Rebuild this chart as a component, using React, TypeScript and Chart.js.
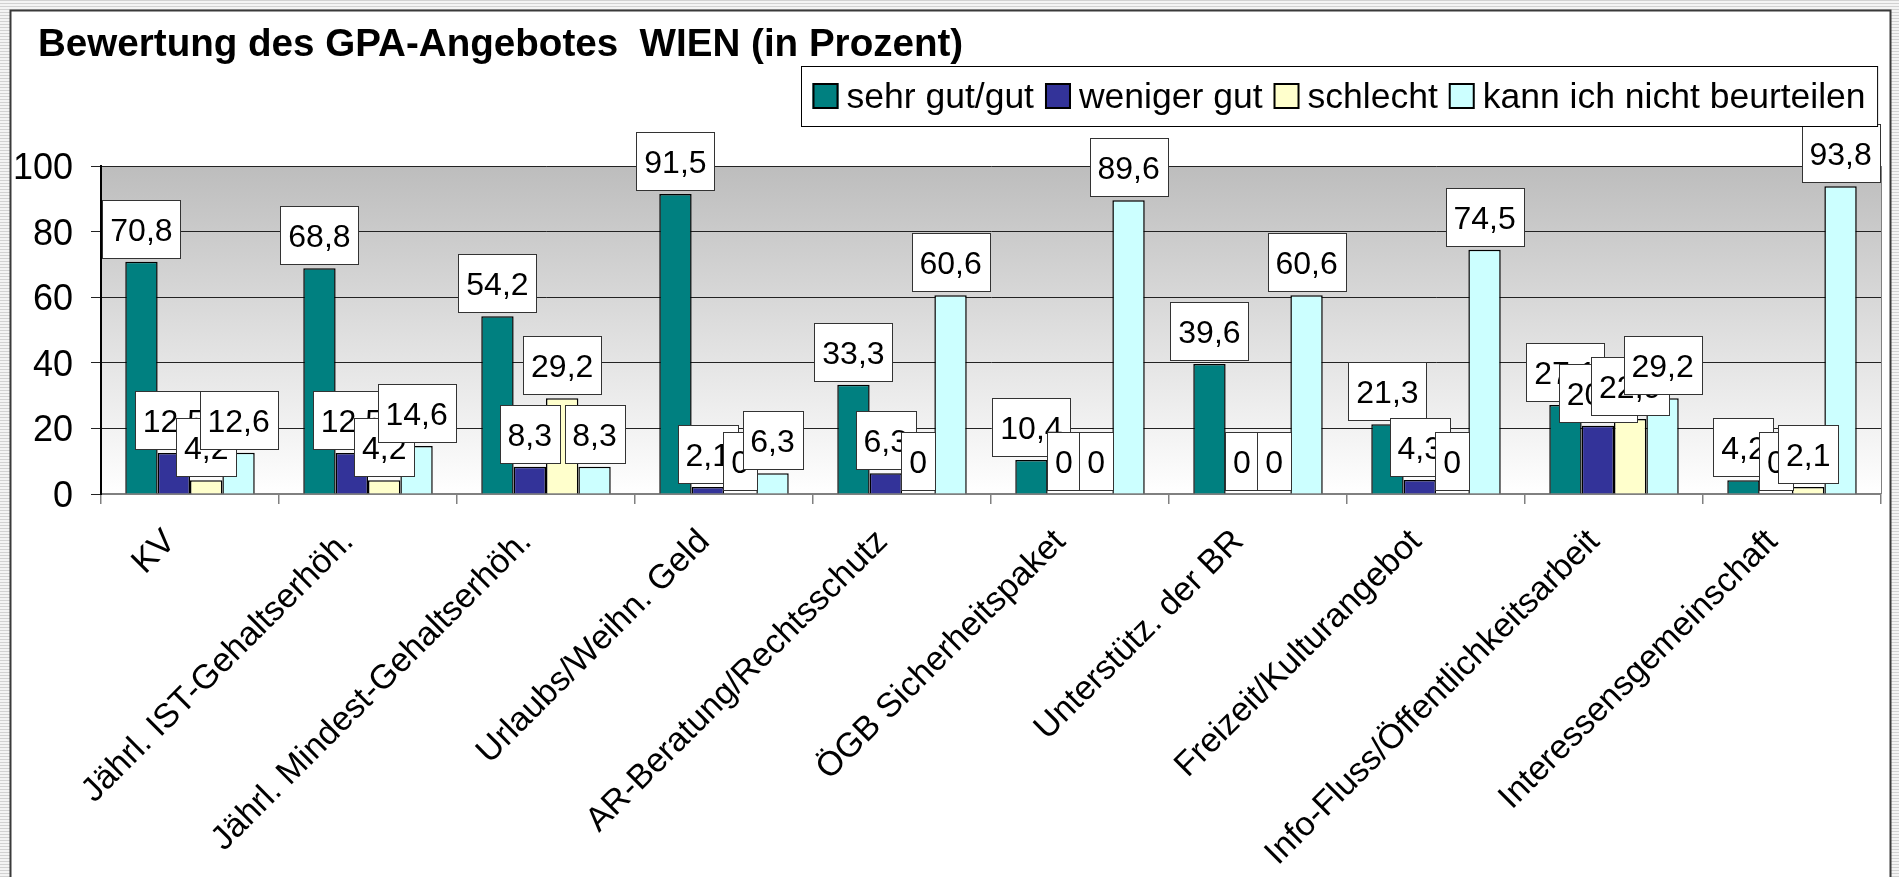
import React, { useEffect, useRef } from 'react';
import { Chart, registerables } from 'chart.js';

Chart.register(...registerables);

const TITLE = 'Bewertung des GPA-Angebotes  WIEN (in Prozent)';
const CATEGORIES = [
  'KV',
  'Jährl. IST-Gehaltserhöh.',
  'Jährl. Mindest-Gehaltserhöh.',
  'Urlaubs/Weihn. Geld',
  'AR-Beratung/Rechtsschutz',
  'ÖGB Sicherheitspaket',
  'Unterstütz. der BR',
  'Freizeit/Kulturangebot',
  'Info-Fluss/Öffentlichkeitsarbeit',
  'Interessensgemeinschaft',
];
const SERIES_NAMES = ['sehr gut/gut', 'weniger gut', 'schlecht', 'kann ich nicht beurteilen'];
const SERIES_COLORS = ['#008080', '#333399', '#FFFFCC', '#CCFFFF'];
const SEHR_GUT = [70.8, 68.8, 54.2, 91.5, 33.3, 10.4, 39.6, 21.3, 27.1, 4.2];
const WENIGER_GUT = [12.5, 12.5, 8.3, 2.1, 6.3, 0, 0, 4.3, 20.8, 0];
const SCHLECHT = [4.2, 4.2, 29.2, 0, 0, 0, 0, 0, 22.9, 2.1];
const NICHT_BEURTEILBAR = [12.6, 14.6, 8.3, 6.3, 60.6, 89.6, 60.6, 74.5, 29.2, 93.8];
const Y_MIN = 0;
const Y_MAX = 100;
const Y_STEP = 20;

const FONT = '"Liberation Sans", Arial, sans-serif';

const fmt = (v: number) => String(v).replace('.', ',');

function drawText(ctx: CanvasRenderingContext2D, text: string, x: number, y: number, align: CanvasTextAlign, rot = 0) {
  ctx.save();
  ctx.translate(x, y);
  if (rot) ctx.rotate(rot);
  ctx.textAlign = align;
  ctx.textBaseline = 'alphabetic';
  ctx.fillText(text, 0, 0);
  ctx.restore();
}

const decor = {
  id: 'decor',
  beforeDraw(chart: any) {
    const { ctx, chartArea: ca, width, height } = chart;
    ctx.save();
    ctx.fillStyle = '#f4f4f4';
    ctx.fillRect(0, 0, width, height);
    ctx.fillStyle = '#d2d2d2';
    for (let y = 0; y < height; y += 3) ctx.fillRect(0, y, width, 1);
    ctx.fillStyle = '#ffffff';
    ctx.fillRect(10, 10, 1880, height);
    ctx.strokeStyle = '#3a3a3a';
    ctx.lineWidth = 2;
    ctx.strokeRect(10.5, 10.5, 1880, height + 20);
    const g = ctx.createLinearGradient(0, ca.top, 0, ca.bottom);
    g.addColorStop(0, '#bdbdbd');
    g.addColorStop(1, '#ffffff');
    ctx.fillStyle = g;
    ctx.fillRect(ca.left, ca.top, ca.right - ca.left, ca.bottom - ca.top);
    ctx.strokeStyle = '#808080';
    ctx.lineWidth = 1;
    ctx.beginPath();
    ctx.moveTo(Math.round(ca.right) + 0.5, ca.top);
    ctx.lineTo(Math.round(ca.right) + 0.5, ca.bottom);
    ctx.stroke();
    ctx.restore();
  },
  afterDatasetsDraw(chart: any) {
    const { ctx } = chart;
    ctx.save();
    ctx.font = `32px ${FONT}`;
    chart.data.datasets.forEach((ds: any, d: number) => {
      const meta = chart.getDatasetMeta(d);
      meta.data.forEach((bar: any, i: number) => {
        const v = ds.data[i];
        const { x, y } = bar.getProps(['x', 'y'], true);
        const text = fmt(v);
        const w = ctx.measureText(text).width;
        const bw = Math.round(w + 16);
        const bh = 58;
        const left = Math.round(x - bw / 2) + 0.5;
        const top = Math.round(y - 4 - bh) + 0.5;
        ctx.fillStyle = '#ffffff';
        ctx.fillRect(left, top, bw, bh);
        ctx.strokeStyle = '#333333';
        ctx.lineWidth = 1;
        ctx.strokeRect(left, top, bw, bh);
        ctx.fillStyle = '#000000';
        drawText(ctx, text, x, top + 40, 'center');
      });
    });
    ctx.restore();
  },
  afterDraw(chart: any) {
    const { ctx } = chart;
    const ys = chart.scales.y;
    const xs = chart.scales.x;
    ctx.save();
    ctx.fillStyle = '#000000';
    // y tick labels
    ctx.font = `36px ${FONT}`;
    ys.ticks.forEach((t: any) => {
      const py = ys.getPixelForValue(t.value);
      drawText(ctx, String(t.value), ys.right - 28, py + 13, 'right');
    });
    // x labels, rotated 45°
    ctx.font = `34px ${FONT}`;
    chart.data.labels.forEach((lab: string, i: number) => {
      const px = xs.getPixelForTick(i);
      drawText(ctx, lab, px - 13, xs.top + 49, 'right', -Math.PI / 4);
    });
    // legend
    ctx.font = `35.5px ${FONT}`;
    const key = 26;
    const gapKT = 8;
    const gapTK = 11;
    const padL = 11;
    const padR = 12;
    const widths = chart.data.datasets.map((ds: any) => ctx.measureText(ds.label).width);
    let total = padL + padR;
    widths.forEach((w: number, i: number) => {
      total += key + gapKT + w + (i < widths.length - 1 ? gapTK : 0);
    });
    const right = 1877;
    const lLeft = Math.round(right - total) + 0.5;
    const lTop = 66.5;
    const lH = 60;
    ctx.fillStyle = '#ffffff';
    ctx.fillRect(lLeft, lTop, total, lH);
    ctx.strokeStyle = '#000000';
    ctx.lineWidth = 1;
    ctx.strokeRect(lLeft, lTop, total, lH);
    let cx = lLeft + padL;
    chart.data.datasets.forEach((ds: any, i: number) => {
      ctx.fillStyle = ds.backgroundColor;
      ctx.fillRect(cx, 83, key, 26);
      ctx.strokeStyle = '#000000';
      ctx.lineWidth = 2;
      ctx.strokeRect(cx + 1, 84, key - 2, 24);
      cx += key + gapKT;
      ctx.fillStyle = '#000000';
      drawText(ctx, ds.label, cx, 108, 'left');
      cx += widths[i] + gapTK;
    });
    ctx.restore();
  },
};

export default function App() {
  const ref = useRef<HTMLCanvasElement>(null);
  useEffect(() => {
    const canvas = ref.current;
    if (!canvas) return;
    const series = [SEHR_GUT, WENIGER_GUT, SCHLECHT, NICHT_BEURTEILBAR];
    const chart = new Chart(canvas, {
      type: 'bar',
      data: {
        labels: CATEGORIES,
        datasets: series.map((vals, i) => ({
          label: SERIES_NAMES[i],
          data: vals,
          backgroundColor: SERIES_COLORS[i],
          borderColor: '#000000',
          borderWidth: 1.5,
          categoryPercentage: 4 / 5.5,
          barPercentage: 1,
        })),
      },
      options: {
        responsive: false,
        animation: false,
        devicePixelRatio: 1,
        layout: { padding: { left: 38, right: 18, top: 0, bottom: 0 } },
        plugins: {
          legend: { display: false },
          tooltip: { enabled: false },
          title: {
            display: true,
            text: TITLE,
            align: 'start',
            color: '#000000',
            font: { family: FONT, size: 38.6, weight: 'bold', lineHeight: 1.2 },
            padding: { top: 22, bottom: 97.7 },
          },
        },
        scales: {
          x: {
            offset: true,
            ticks: { display: false },
            grid: { drawOnChartArea: false, drawTicks: true, tickLength: 10, color: '#808080', lineWidth: 1.5, offset: true },
            border: { display: true, color: '#808080', width: 2 },
            afterFit: (s: any) => { s.height = 877 - 494; },
          },
          y: {
            min: Y_MIN,
            max: Y_MAX,
            ticks: { display: false, stepSize: Y_STEP },
            grid: { color: '#222222', lineWidth: 1, drawTicks: true, tickLength: 10 },
            border: { display: true, color: '#000000', width: 2 },
            afterFit: (s: any) => { s.width = 63; },
          },
        },
      },
      plugins: [decor],
    } as any);
    return () => chart.destroy();
  }, []);
  return (
    <div style={{ position: 'fixed', left: 0, top: 0, width: 1899, height: 877, background: '#fff', overflow: 'hidden' }}>
      <canvas ref={ref} width={1899} height={877} style={{ display: 'block', width: 1899, height: 877 }} />
    </div>
  );
}
